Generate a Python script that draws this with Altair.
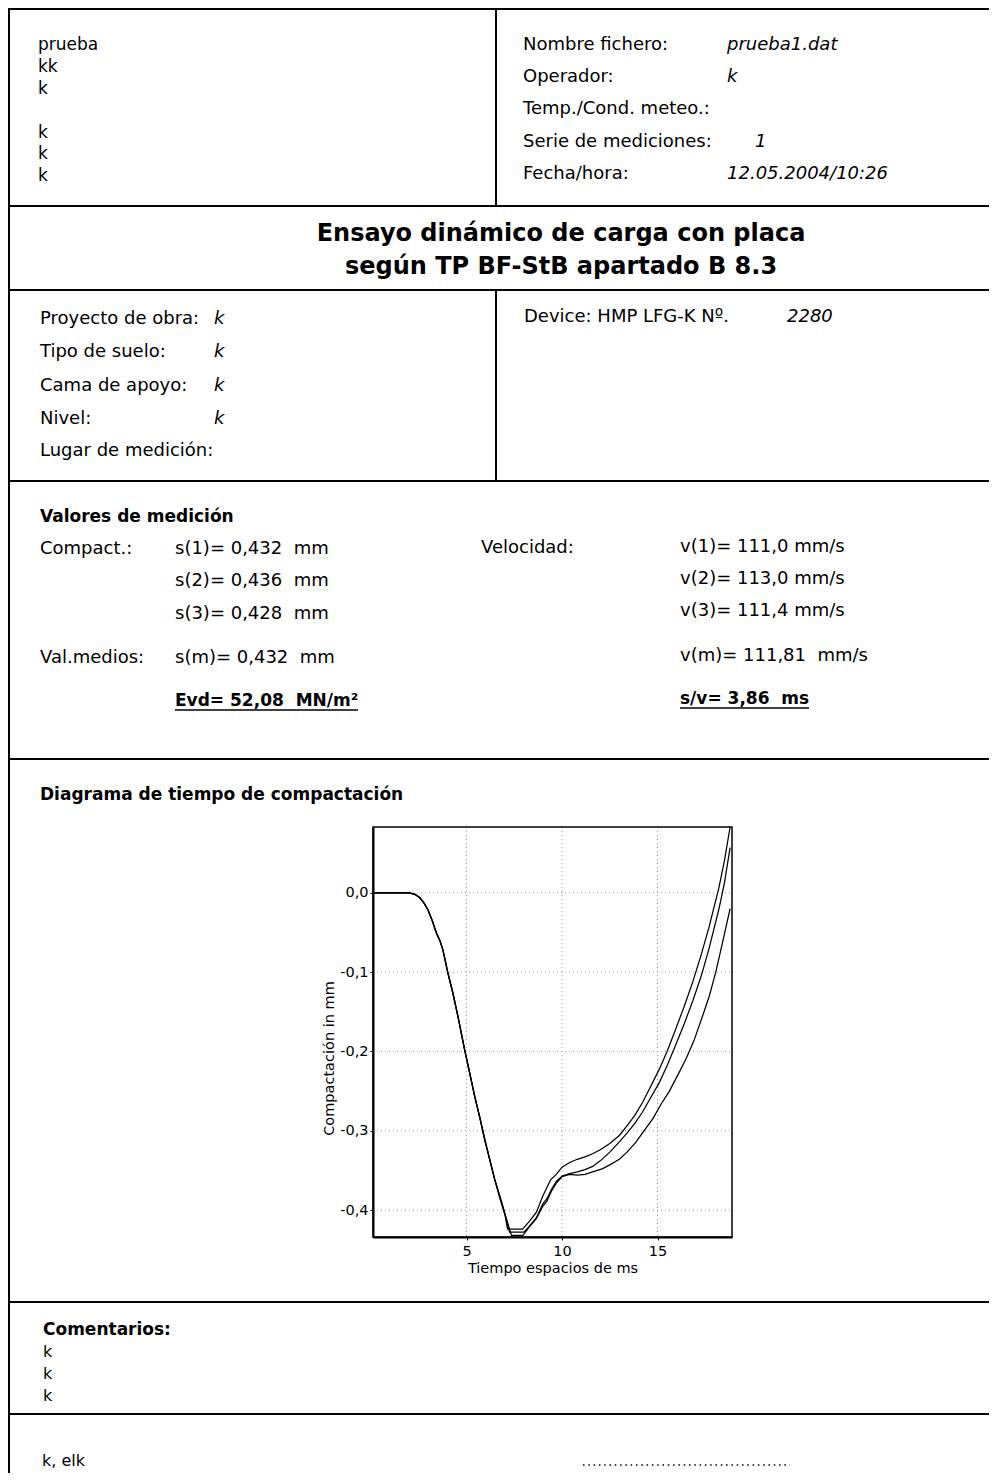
import altair as alt
import pandas as pd

# ---------------- data ----------------
# shared falling branch (the three drops coincide)
t_shared = [0.1, 1.0, 2.0, 2.3, 2.54, 2.75, 2.97, 3.2, 3.41, 3.6, 3.76, 4.02, 4.28, 4.55,
            4.9, 5.17, 5.43, 5.7, 5.96, 6.22, 6.48]
s_shared = [0, 0, 0, -0.002, -0.006, -0.012, -0.021, -0.035, -0.050, -0.060, -0.072,
            -0.101, -0.126, -0.156, -0.198, -0.228, -0.257, -0.284, -0.312, -0.337, -0.362]

t_a = [6.74, 7.0, 7.15, 7.93, 8.3, 8.65, 9.0, 9.2, 9.4, 9.7, 10.0, 10.4, 10.8, 11.2, 11.6,
       12.0, 12.5, 13.0, 13.4, 13.8, 14.2, 14.6, 15.1, 15.5, 15.95, 16.4, 16.85, 17.3, 17.7,
       18.2, 18.5, 18.8]
s_a = [-0.385, -0.405, -0.424, -0.424, -0.414, -0.403, -0.382, -0.372, -0.362, -0.355,
       -0.346, -0.340, -0.336, -0.333, -0.329, -0.324, -0.316, -0.306, -0.294, -0.281,
       -0.265, -0.246, -0.222, -0.200, -0.172, -0.143, -0.112, -0.077, -0.043, 0.005,
       0.040, 0.083]

t_b = [6.76, 7.03, 7.25, 8.0, 8.3, 8.65, 9.0, 9.2, 9.45, 9.7, 10.0, 10.4, 10.8, 11.2, 11.6,
       12.0, 12.5, 13.0, 13.4, 13.8, 14.2, 14.6, 15.1, 15.5, 15.95, 16.4, 16.85, 17.3, 17.7,
       18.2, 18.5, 18.8]
s_b = [-0.385, -0.407, -0.428, -0.428, -0.420, -0.410, -0.392, -0.386, -0.374, -0.364,
       -0.357, -0.354, -0.352, -0.349, -0.345, -0.338, -0.327, -0.314, -0.303, -0.291,
       -0.277, -0.260, -0.239, -0.218, -0.192, -0.165, -0.136, -0.104, -0.070, -0.022,
       0.012, 0.057]

t_c = [6.78, 7.06, 7.35, 7.95, 8.3, 8.65, 9.0, 9.2, 9.45, 9.7, 10.0, 10.4, 10.8, 11.2, 11.6,
       12.1, 12.5, 13.0, 13.4, 13.85, 14.3, 14.75, 15.2, 15.6, 16.1, 16.5, 16.9, 17.35, 17.7,
       18.05, 18.4, 18.8]
s_c = [-0.385, -0.409, -0.432, -0.432, -0.421, -0.411, -0.395, -0.389, -0.376, -0.366,
       -0.358, -0.355, -0.356, -0.355, -0.352, -0.348, -0.343, -0.336, -0.327, -0.315,
       -0.300, -0.285, -0.266, -0.251, -0.228, -0.209, -0.187, -0.156, -0.131, -0.100,
       -0.063, -0.020]

x_ticks = [5, 10, 15]
y_ticks = [0, -0.1, -0.2, -0.3, -0.4]

header_left = ["prueba", "kk", "k", "", "k", "k", "k"]
header_labels = ["Nombre fichero:", "Operador:", "Temp./Cond. meteo.:",
                 "Serie de mediciones:", "Fecha/hora:"]
header_values = ["prueba1.dat", "k", "", "1", "12.05.2004/10:26"]
title_lines = ["Ensayo dinámico de carga con placa", "según TP BF-StB apartado B 8.3"]
project_labels = ["Proyecto de obra:", "Tipo de suelo:", "Cama de apoyo:", "Nivel:",
                  "Lugar de medición:"]
project_values = ["k", "k", "k", "k", ""]
device_label = "Device: HMP LFG-K Nº."
device_value = "2280"
s_lines = ["s(1)= 0,432\u00a0 mm", "s(2)= 0,436\u00a0 mm", "s(3)= 0,428\u00a0 mm"]
v_lines = ["v(1)= 111,0 mm/s", "v(2)= 113,0 mm/s", "v(3)= 111,4 mm/s"]
s_mean = "s(m)= 0,432\u00a0 mm"
v_mean = "v(m)= 111,81\u00a0 mm/s"
evd_text = "Evd= 52,08\u00a0 MN/m²"
sv_text = "s/v= 3,86\u00a0 ms"
comments = ["k", "k", "k"]
footer = "k, elk"

rows = []
for name, tt, ss in [("1", t_a, s_a), ("2", t_b, s_b), ("3", t_c, s_c)]:
    for t, s in zip(t_shared + tt, s_shared + ss):
        rows.append({"run": name, "t": t, "s": s})
df = pd.DataFrame(rows)

# ---------------- layout ----------------
FONT = "DejaVu Sans"
OX, OY = 8, 8
W, H = 981, 1465
PX0, PX1 = 365, 724      # plot area (chart coords)
PY0, PY1 = 819, 1229


def txt(s, x, y, size=18, bold=False, italic=False, align="left"):
    return alt.Chart(pd.DataFrame({"label": [s]})).mark_text(
        align=align, baseline="alphabetic", font=FONT, fontSize=size,
        fontWeight="bold" if bold else "normal",
        fontStyle="italic" if italic else "normal", color="black"
    ).encode(x=alt.value(x - OX), y=alt.value(y - OY), text="label:N")


def rule(x1, y1, x2, y2, w=2.0, dash=None):
    kw = dict(color="black", strokeWidth=w)
    if dash:
        kw["strokeDash"] = dash
    return alt.Chart(pd.DataFrame({"k": [0]})).mark_rule(**kw).encode(
        x=alt.value(x1), x2=alt.value(x2), y=alt.value(y1), y2=alt.value(y2))


layers = []

# frame lines
layers.append(rule(1, 1, W, 1))
for yy in [206, 290, 481, 759, 1302, 1414]:
    layers.append(rule(0, yy - OY, W, yy - OY))
layers.append(rule(1, 0, 1, H))
layers.append(rule(496 - OX, 0, 496 - OX, 206 - OY))
layers.append(rule(496 - OX, 290 - OY, 496 - OX, 481 - OY))

# header
for s, yy in zip(header_left, [50, 72, 94, 116, 138, 159, 181]):
    if s:
        layers.append(txt(s, 38, yy, size=17))
for lab, val, yy in zip(header_labels, header_values, [50, 82, 114, 147, 179]):
    layers.append(txt(lab, 523, yy))
    if val:
        layers.append(txt(val, 755 if val == "1" else 727, yy, italic=True))

# title
layers.append(txt(title_lines[0], 561, 241, size=24, bold=True, align="center"))
layers.append(txt(title_lines[1], 561, 274, size=24, bold=True, align="center"))

# project block
for lab, val, yy in zip(project_labels, project_values, [324, 357, 391, 424, 456]):
    layers.append(txt(lab, 40, yy))
    if val:
        layers.append(txt(val, 214, yy, italic=True))
layers.append(txt(device_label, 524, 322))
layers.append(txt(device_value, 787, 322, italic=True))

# measurement values
layers.append(txt("Valores de medición", 40, 522, size=17, bold=True))
layers.append(txt("Compact.:", 40, 554))
for s, yy in zip(s_lines, [554, 586, 619]):
    layers.append(txt(s, 175, yy))
layers.append(txt("Velocidad:", 481, 553))
for s, yy in zip(v_lines, [552, 584, 616]):
    layers.append(txt(s, 680, yy))
layers.append(txt("Val.medios:", 40, 663))
layers.append(txt(s_mean, 175, 663))
layers.append(txt(v_mean, 680, 661))
layers.append(txt(evd_text, 175, 706, size=17, bold=True))
layers.append(rule(175 - OX, 710 - OY, 358 - OX, 710 - OY, w=1.5))
layers.append(txt(sv_text, 680, 704, size=17, bold=True))
layers.append(rule(680 - OX, 708 - OY, 809 - OX, 708 - OY, w=1.5))

# diagram title
layers.append(txt("Diagrama de tiempo de compactación", 40, 800, size=17, bold=True))

# comments and footer
layers.append(txt("Comentarios:", 43, 1335, size=17, bold=True))
for s, yy in zip(comments, [1357, 1379, 1401]):
    layers.append(txt(s, 43, yy, size=16))
layers.append(txt(footer, 42, 1466, size=16))
layers.append(rule(583 - OX, 1465 - OY, 790 - OX, 1465 - OY, w=1.5, dash=[1.5, 3.8]))

# scales shared by grid and curves
x_scale = alt.Scale(domain=[0.1, 18.9], range=[PX0, PX1], nice=False, zero=False)
y_scale = alt.Scale(domain=[-0.434, 0.083], range=[PY1, PY0], nice=False, zero=False)

# dotted grid
layers.append(alt.Chart(pd.DataFrame({"t": x_ticks})).mark_rule(
    color="#9a9a9a", strokeWidth=1, strokeDash=[1, 3]
).encode(x=alt.X("t:Q", scale=x_scale), y=alt.value(PY0), y2=alt.value(PY1)))
layers.append(alt.Chart(pd.DataFrame({"s": y_ticks})).mark_rule(
    color="#9a9a9a", strokeWidth=1, strokeDash=[1, 3]
).encode(y=alt.Y("s:Q", scale=y_scale), x=alt.value(PX0), x2=alt.value(PX1)))

# plot frame
layers.append(alt.Chart(pd.DataFrame({"k": [0]})).mark_rect(
    fillOpacity=0, stroke="black", strokeWidth=1.5
).encode(x=alt.value(PX0), x2=alt.value(PX1), y=alt.value(PY0), y2=alt.value(PY1)))

axis_common = dict(
    labelFont=FONT, labelFontSize=14.5, labelColor="black",
    titleFont=FONT, titleFontSize=14.5, titleFontWeight="normal", titleColor="black",
    domainColor="black", domainWidth=2, tickColor="black", tickSize=3, grid=False,
)

line = alt.Chart(df).mark_line(color="black", strokeWidth=1.25).encode(
    x=alt.X("t:Q", scale=x_scale,
            axis=alt.Axis(values=x_ticks, orient="bottom", offset=-(H - PY1),
                          title="Tiempo espacios de ms", labelPadding=4, titlePadding=4,
                          labelFlush=False, **axis_common)),
    y=alt.Y("s:Q", scale=y_scale,
            axis=alt.Axis(values=y_ticks, orient="left", offset=-PX0,
                          title="Compactación in mm", labelPadding=2, titlePadding=3,
                          titleY=1050, labelFlush=False,
                          labelExpr="replace(replace(format(datum.value, '.1f'), '.', ','), '\u2212', '-')",
                          **axis_common)),
    detail="run:N",
)
layers.append(line)

chart = alt.layer(*layers).properties(
    width=W, height=H, padding=0,
    autosize=alt.AutoSizeParams(type="none"),
).configure_view(stroke=None).configure(background="white")

chart.save("out.html", embed_options={"renderer": "svg", "actions": False})
